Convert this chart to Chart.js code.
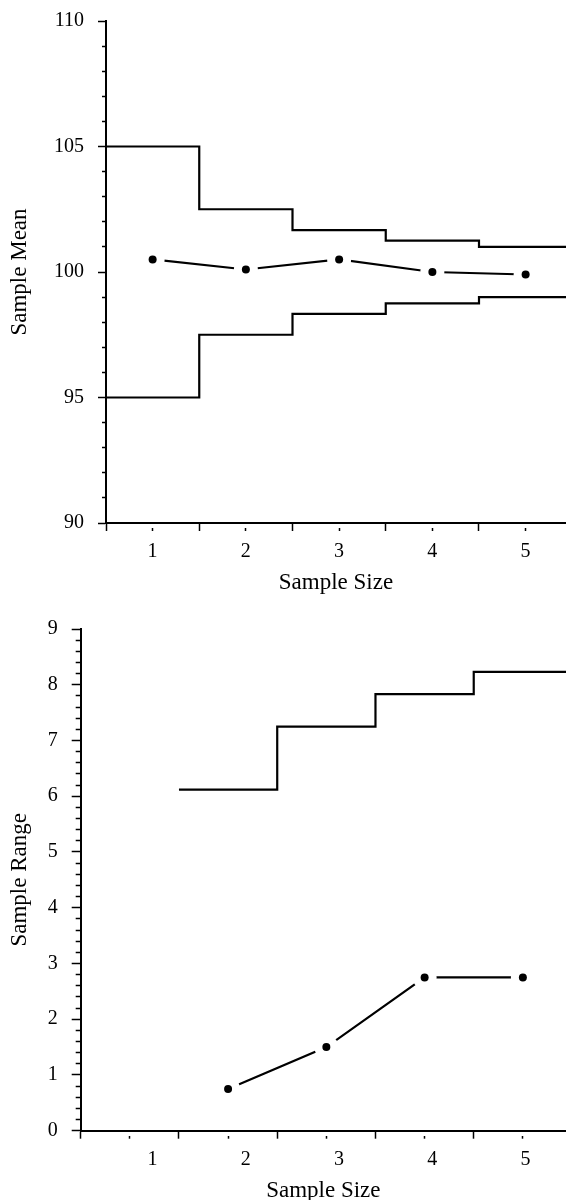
<!DOCTYPE html>
<html><head><meta charset="utf-8">
<script src="https://cdn.jsdelivr.net/npm/chart.js@4.4.1/dist/chart.umd.min.js"></script>
<style>
html,body{margin:0;padding:0;background:#fff;overflow:hidden}
#wrap{position:relative;width:566px;height:1200px;overflow:hidden;background:#fff}
canvas{position:absolute;left:0}
</style></head>
<body>
<div id="wrap">
<canvas id="c1" width="566" height="600" style="top:0px"></canvas>
<canvas id="c2" width="566" height="620" style="top:600px"></canvas>
</div>
<script>
// ---------- data ----------
const sizes = [1, 2, 3, 4, 5];
const sampleMeans = [100.5, 100.1, 100.5, 100.0, 99.9];
const limitEdges = [0.5, 1.5, 2.5, 3.5, 4.5, 5.5];
const meanUpper = [105, 102.5, 101.67, 101.25, 101, 101];
const meanLower = [95, 97.5, 98.33, 98.75, 99, 99];

const rangeSizes = [2, 3, 4, 5];
const sampleRanges = [0.75, 1.5, 2.75, 2.75];
const rangeEdges = [1.5, 2.5, 3.5, 4.5, 5.5];
const rangeUpper = [6.12, 7.25, 7.83, 8.23, 8.23];

// ---------- ticks ----------
const sizeTicks = [0.5, 1, 1.5, 2, 2.5, 3, 3.5, 4, 4.5, 5];
const sizeLabelTicks = [1, 2, 3, 4, 5];
const meanTicks = [90,91,92,93,94,95,96,97,98,99,100,101,102,103,104,105,106,107,108,109,110];
const rangeTicks = [];
for (let i = 0; i <= 45; i++) rangeTicks.push(i / 5);

// ---------- helpers ----------
const BLACK = '#000';
Chart.defaults.font.family = "'Liberation Serif', 'Times New Roman', serif";
Chart.defaults.color = BLACK;
const isInt = v => Math.abs(v - Math.round(v)) < 1e-6;
const pts = (xs, ys) => xs.map((x, i) => ({x: x, y: ys[i]}));
const noPad = s => { s.paddingTop = 0; s.paddingBottom = 0; s.paddingLeft = 0; s.paddingRight = 0; };

function markDatasets(xs, ys) {
  const d = pts(xs, ys);
  return [
    {data: d, showLine: false, pointRadius: 4, pointHoverRadius: 4, pointBackgroundColor: BLACK, pointBorderWidth: 0, order: 1},
    {data: d, showLine: false, pointRadius: 12, pointHoverRadius: 12, pointBackgroundColor: '#fff', pointBorderWidth: 0, order: 2},
    {data: d, borderColor: BLACK, borderWidth: 2.2, pointRadius: 0, fill: false, order: 3}
  ];
}
function stepDataset(xs, ys) {
  return {data: pts(xs, ys), stepped: 'before', borderColor: BLACK, borderWidth: 2.2, pointRadius: 0, fill: false, order: 4};
}
function tickGrid(tl, minorLen, isMajor) {
  return {
    drawOnChartArea: false, drawTicks: true, tickLength: tl, tickColor: BLACK, tickWidth: 1.5,
    tickBorderDash: c => (c.tick && isMajor(c.tick.value)) ? [] : [minorLen, tl - minorLen],
    tickBorderDashOffset: c => (c.tick && isMajor(c.tick.value)) ? 0 : minorLen
  };
}
function yScale(opt) {
  return {
    type: 'linear', position: 'left', min: opt.min, max: opt.max,
    afterBuildTicks: s => { s.ticks = opt.ticks.map(v => ({value: v})); },
    afterFit: s => { s.width = opt.width; noPad(s); },
    ticks: {autoSkip: false, font: {size: 20}, color: BLACK, padding: 14,
            callback: v => opt.isMajor(v) ? String(Math.round(v)) : ''},
    grid: tickGrid(opt.tl, opt.minor, opt.isMajor),
    border: {display: true, color: BLACK, width: 2},
    title: {display: true, text: opt.title, font: {size: 23}, color: BLACK, padding: {top: 5.7, bottom: 0}}
  };
}
const common = {
  responsive: false, maintainAspectRatio: false, animation: false, devicePixelRatio: 1, events: [],
  plugins: {legend: {display: false}, tooltip: {enabled: false}}
};

// ---------- top chart: sample mean ----------
new Chart(document.getElementById('c1'), {
  type: 'line',
  data: {datasets: [
    ...markDatasets(sizes, sampleMeans),
    stepDataset(limitEdges, meanUpper),
    stepDataset(limitEdges, meanLower)
  ]},
  options: Object.assign({}, common, {
    layout: {autoPadding: false, padding: {top: 21, left: 0, right: 0, bottom: 0}},
    scales: {
      x: {
        type: 'linear', position: 'bottom', min: 0.5, max: 5.433,
        afterBuildTicks: s => { s.ticks = sizeTicks.map(v => ({value: v})); },
        afterFit: s => { s.height = 77; noPad(s); },
        ticks: {autoSkip: false, maxRotation: 0, minRotation: 0, font: {size: 20}, color: BLACK, padding: 8.7,
                callback: v => isInt(v) ? String(Math.round(v)) : ''},
        grid: tickGrid(8, 4, v => !isInt(v)),
        border: {display: true, color: BLACK, width: 2},
        title: {display: true, text: 'Sample Size', font: {size: 23}, color: BLACK, padding: {top: 0, bottom: 2.9}}
      },
      y: yScale({min: 90, max: 110, ticks: meanTicks, width: 106, tl: 8, minor: 4,
                 isMajor: v => isInt(v / 5), title: 'Sample Mean'})
    }
  })
});

// ---------- bottom chart: sample range ----------
new Chart(document.getElementById('c2'), {
  type: 'line',
  data: {datasets: [
    ...markDatasets(rangeSizes, sampleRanges),
    stepDataset(rangeEdges, rangeUpper)
  ]},
  options: Object.assign({}, common, {
    layout: {autoPadding: false, padding: {top: 29, left: 0, right: 0, bottom: 0}},
    scales: {
      x: {
        type: 'linear', position: 'bottom', weight: 0, min: 0.5, max: 5.439,
        afterBuildTicks: s => { s.ticks = sizeTicks.map(v => ({value: v})); },
        afterFit: s => { s.height = 8; noPad(s); },
        ticks: {display: false, autoSkip: false, maxRotation: 0},
        grid: tickGrid(8, 4, v => !isInt(v)),
        border: {display: true, color: BLACK, width: 2}
      },
      x2: {
        type: 'linear', position: 'bottom', weight: 1, min: 0.229, max: 5.433,
        afterBuildTicks: s => { s.ticks = sizeLabelTicks.map(v => ({value: v})); },
        afterFit: s => { s.height = 81.3; noPad(s); },
        ticks: {autoSkip: false, maxRotation: 0, minRotation: 0, font: {size: 20}, color: BLACK, padding: 8.8,
                callback: v => String(Math.round(v))},
        grid: {display: false, drawTicks: false, drawOnChartArea: false},
        border: {display: false},
        title: {display: true, text: 'Sample Size', font: {size: 23}, color: BLACK, padding: {top: 0, bottom: 15.5}}
      },
      y: yScale({min: 0, max: 9, ticks: rangeTicks, width: 80.7, tl: 9, minor: 5,
                 isMajor: v => isInt(v), title: 'Sample Range'})
    }
  })
});
</script>
</body></html>
